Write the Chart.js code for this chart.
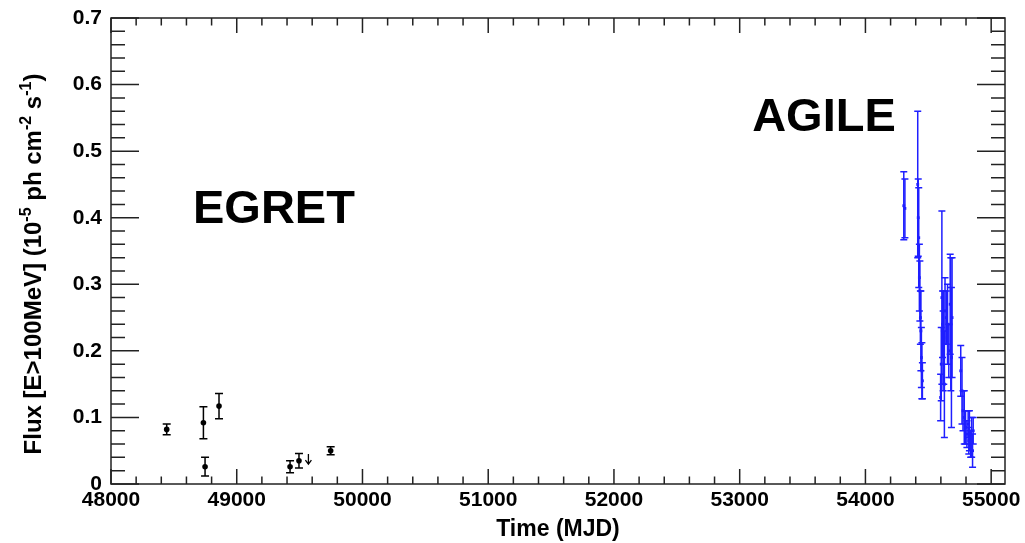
<!DOCTYPE html>
<html>
<head>
<meta charset="utf-8">
<script src="https://cdn.jsdelivr.net/npm/chart.js@4"></script>
<style>
  html, body { margin: 0; padding: 0; background: #fff; }
  #wrap { width: 1025px; height: 543px; }
</style>
</head>
<body>
<div id="wrap"><canvas id="lc" width="1025" height="543"></canvas></div>
<script>
    // EGRET points (MJD, flux, error)
    const egretMjd  = [48443, 48735, 48859, 48748, 49424, 49495, 49747];
    const egretFlux = [0.082, 0.092, 0.117, 0.026, 0.026, 0.035, 0.050];
    const egretErr  = [0.008, 0.024, 0.019, 0.014, 0.009, 0.011, 0.006];
    // EGRET upper limit
    const egretUlMjd  = [49570];
    const egretUlFlux = [0.045];

    // AGILE points
    const agileMjd = [
        54305, 54314,
        54416, 54420, 54424, 54429, 54433, 54437, 54441, 54445, 54449, 54453,
        54598, 54603, 54608, 54613, 54618, 54623, 54628, 54633, 54643, 54653, 54663, 54674, 54679, 54684, 54689,
        54758, 54768, 54776, 54786, 54796, 54807, 54817, 54822, 54827, 54837, 54845, 54852, 54857
    ];
    const agileFlux = [
        0.418, 0.414,
        0.450, 0.400, 0.370, 0.310, 0.290, 0.250, 0.230, 0.190, 0.170, 0.155,
        0.130, 0.180, 0.280, 0.240, 0.200, 0.220, 0.150, 0.260, 0.250, 0.240, 0.200, 0.270, 0.240, 0.190, 0.250,
        0.170, 0.140, 0.110, 0.100, 0.085, 0.075, 0.090, 0.065, 0.080, 0.060, 0.070, 0.050, 0.080
    ];
    const agileErr = [
        0.051, 0.044,
        0.110, 0.058, 0.075, 0.050, 0.045, 0.040, 0.060, 0.045, 0.042, 0.027,
        0.035, 0.055, 0.130, 0.050, 0.060, 0.070, 0.080, 0.050, 0.040, 0.060, 0.040, 0.075, 0.100, 0.105, 0.090,
        0.038, 0.050, 0.030, 0.040, 0.025, 0.020, 0.020, 0.020, 0.030, 0.020, 0.030, 0.025, 0.020
    ];

    const xTickValues = [48000, 49000, 50000, 51000, 52000, 53000, 54000, 55000];
    const yTickValues = [0, 0.1, 0.2, 0.3, 0.4, 0.5, 0.6, 0.7];
    // y title pieces: [text, superscript?]
    const yTitleParts = [['Flux [E>100MeV] (10', false], ['-5', true], [' ph cm', false], ['-2', true], [' s', false], ['-1', true], [')', false]];

    const FONT = '"Liberation Sans", Arial, Helvetica, sans-serif';

    // error bars + upper limit arrow, drawn through the scales
    const errorBars = {
        id: 'errorBars',
        afterDatasetsDraw(chart) {
            const ctx = chart.ctx, xs = chart.scales.x, ys = chart.scales.y;
            ctx.save();
            chart.data.datasets.forEach(ds => {
                if (!ds.errors) return;
                ctx.strokeStyle = ds.borderColor;
                ctx.lineWidth = ds.errWidth;
                ds.data.forEach((p, i) => {
                    const px = xs.getPixelForValue(p.x);
                    const lo = ys.getPixelForValue(p.y - ds.errors[i]);
                    const hi = ys.getPixelForValue(p.y + ds.errors[i]);
                    const c = ds.capHalf;
                    ctx.beginPath();
                    ctx.moveTo(px, lo); ctx.lineTo(px, hi);
                    ctx.moveTo(px - c, lo); ctx.lineTo(px + c, lo);
                    ctx.moveTo(px - c, hi); ctx.lineTo(px + c, hi);
                    ctx.stroke();
                });
            });
            // upper limit
            ctx.strokeStyle = '#000';
            ctx.lineWidth = 1.3;
            egretUlMjd.forEach((m, i) => {
                const px = xs.getPixelForValue(m);
                const top = ys.getPixelForValue(egretUlFlux[i]);
                const bot = top + 10;
                ctx.beginPath();
                ctx.moveTo(px, top); ctx.lineTo(px, bot);
                ctx.moveTo(px - 3, bot - 4); ctx.lineTo(px, bot); ctx.lineTo(px + 3, bot - 4);
                ctx.stroke();
            });
            ctx.restore();
        }
    };

    // ROOT style frame with inward ticks, y title, instrument labels
    const frame = {
        id: 'frame',
        afterDraw(chart) {
            const ctx = chart.ctx, a = chart.chartArea, xs = chart.scales.x, ys = chart.scales.y;
            ctx.save();
            ctx.strokeStyle = '#222';
            ctx.lineWidth = 1.5;
            ctx.strokeRect(a.left, a.top, a.right - a.left, a.bottom - a.top);
            ctx.beginPath();
            for (let v = 48000; v <= 55100; v += 200) {
                const px = xs.getPixelForValue(v);
                const len = v % 1000 === 0 ? 15 : 7.5;
                ctx.moveTo(px, a.bottom); ctx.lineTo(px, a.bottom - len);
                ctx.moveTo(px, a.top); ctx.lineTo(px, a.top + len);
            }
            for (let k = 0; k <= 35; k++) {
                const py = ys.getPixelForValue(k * 0.02);
                const len = k % 5 === 0 ? 28 : 14;
                ctx.moveTo(a.left, py); ctx.lineTo(a.left + len, py);
                ctx.moveTo(a.right, py); ctx.lineTo(a.right - len, py);
            }
            ctx.stroke();

            ctx.fillStyle = '#000';
            ctx.font = 'bold 47px ' + FONT;
            ctx.textBaseline = 'middle';
            ctx.textAlign = 'left';
            ctx.fillText('EGRET', xs.getPixelForValue(48652), ys.getPixelForValue(0.411));
            ctx.fillText('AGILE', xs.getPixelForValue(53099), ys.getPixelForValue(0.549));

            // rotated y title with superscripts
            const big = 'bold 24px ' + FONT, small = 'bold 16px ' + FONT;
            let total = 0;
            yTitleParts.forEach(([t, sup]) => { ctx.font = sup ? small : big; total += ctx.measureText(t).width; });
            ctx.translate(41, 264);
            ctx.rotate(-Math.PI / 2);
            ctx.textBaseline = 'alphabetic';
            let x0 = -total / 2;
            yTitleParts.forEach(([t, sup]) => {
                ctx.font = sup ? small : big;
                ctx.fillText(t, x0, sup ? -10 : 0);
                x0 += ctx.measureText(t).width;
            });
            ctx.restore();
        }
    };

    new Chart(document.getElementById('lc').getContext('2d'), {
        type: 'scatter',
        data: {
            datasets: [
                {
                    label: 'EGRET',
                    data: egretMjd.map((m, i) => ({x: m, y: egretFlux[i]})),
                    errors: egretErr, errWidth: 1.5, capHalf: 4,
                    borderColor: '#000', backgroundColor: '#000',
                    pointRadius: 2.8, pointBorderWidth: 0
                },
                {
                    label: 'AGILE',
                    data: agileMjd.map((m, i) => ({x: m, y: agileFlux[i]})),
                    errors: agileErr, errWidth: 1.5, capHalf: 3.5,
                    borderColor: '#1f1fff', backgroundColor: '#1f1fff',
                    pointRadius: 2, pointStyle: 'rect', pointBorderWidth: 0
                }
            ]
        },
        options: {
            responsive: false, animation: false, devicePixelRatio: 1,
            layout: { padding: { left: 0, right: 0, top: 18, bottom: 0 } },
            plugins: { legend: { display: false }, tooltip: { enabled: false } },
            scales: {
                x: {
                    type: 'linear', min: 48000, max: 55110,
                    afterBuildTicks: s => { s.ticks = xTickValues.map(v => ({value: v})); },
                    afterFit: s => { s.height = 59; s.paddingLeft = 0; s.paddingRight = 20; },
                    grid: { display: false, drawTicks: false },
                    border: { display: false },
                    ticks: { color: '#000', padding: 4, maxRotation: 0, font: { family: FONT, size: 21, weight: 'bold' }, callback: v => String(v) },
                    title: { display: true, text: 'Time (MJD)', color: '#000', padding: { top: 0, bottom: 0 }, font: { family: FONT, size: 23, weight: 'bold' } }
                },
                y: {
                    type: 'linear', min: 0, max: 0.7,
                    afterBuildTicks: s => { s.ticks = yTickValues.map(v => ({value: v})); },
                    afterFit: s => { s.width = 111; s.paddingTop = 0; s.paddingBottom = 0; },
                    grid: { display: false, drawTicks: false },
                    border: { display: false },
                    ticks: { color: '#000', padding: 9, font: { family: FONT, size: 21, weight: 'bold' }, callback: v => v === 0 ? '0' : v.toFixed(1) },
                    title: { display: false }
                }
            }
        },
        plugins: [errorBars, frame]
    });
</script>
</body>
</html>
